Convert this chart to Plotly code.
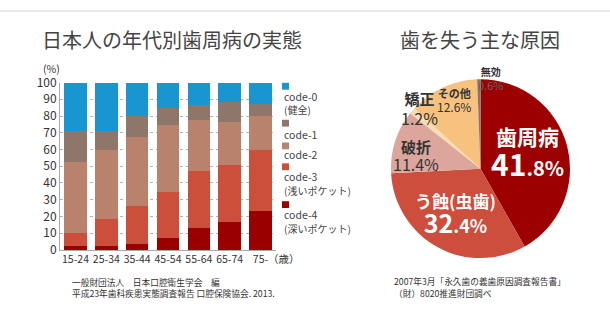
import plotly.graph_objects as go

W, H = 610, 321

# --- periodontal status by age group (stacked %, bottom to top: code-4 ... code-0)
age_groups = ["15-24", "25-34", "35-44", "45-54", "55-64", "65-74", "75-"]
code4 = [2.2, 2.5, 3.8, 7.3, 13.0, 16.4, 23.0]
code3 = [7.8, 16.0, 22.5, 27.3, 34.4, 34.4, 36.8]
code2 = [42.6, 41.3, 41.0, 40.3, 30.3, 25.6, 20.3]
code1 = [18.7, 11.5, 12.8, 9.6, 8.9, 11.7, 7.0]
code0 = [28.7, 28.7, 19.9, 15.5, 13.4, 11.9, 12.9]
y_ticks = list(range(0, 101, 10))

code_names = ["code-0", "code-1", "code-2", "code-3", "code-4"]
code_notes = ["(健全)", "", "", "(浅いポケット)", "(深いポケット)"]
code_colors = ["#1796d1", "#8e776a", "#b8826d", "#cc4f3c", "#9a0000"]

# --- main causes of tooth loss (%)
cause_labels = ["歯周病", "う蝕(虫歯)", "破折", "矯正", "その他", "無効"]
cause_values = [41.8, 32.4, 11.4, 1.2, 12.6, 0.6]
cause_colors = ["#9c0000", "#cd4e3c", "#dca69d", "#f8dcb2", "#f6c27d", "#8c7468"]

FONT = "Noto Sans CJK JP"


def px(x):
    return x / W


def py(y):
    return 1 - y / H


def span(text, size, color=None, bold=False):
    style = f"font-size:{size}px"
    if color:
        style += f";color:{color}"
    body = f"<b>{text}</b>" if bold else text
    return f"<span style='{style}'>{body}</span>"


fig = go.Figure()

series = [code4, code3, code2, code1, code0]
for i, vals in enumerate(series):
    k = 4 - i
    fig.add_trace(go.Bar(
        x=age_groups, y=vals, name=code_names[k],
        marker=dict(color=code_colors[k], line=dict(width=0)),
        showlegend=False, hoverinfo="skip",
    ))

fig.add_trace(go.Pie(
    labels=cause_labels, values=cause_values, sort=False,
    direction="clockwise", rotation=0,
    marker=dict(colors=cause_colors, line=dict(width=0)),
    textinfo="none", hoverinfo="skip", showlegend=False,
    domain=dict(x=[px(386), px(575)], y=[py(262), py(73)]),
))

annotations = []


def note(text, x, y, size, color="#444", xanchor="center", align="center"):
    # size is the base size; it sets the spacing between <br> lines (1.3 em)
    annotations.append(dict(
        text=text, x=px(x), y=py(y), xref="paper", yref="paper",
        xanchor=xanchor, yanchor="middle", align=align, showarrow=False,
        font=dict(family=FONT, size=size, color=color),
    ))


# titles and axis captions
note("日本人の年代別歯周病の実態", 40, 31, 20, "#444", xanchor="left")
note("歯を失う主な原因", 480, 31, 20, "#444")
note("(%)", 41, 62, 10.5, "#333", xanchor="left")
note("（歳）", 266, 262, 10.5, "#333", xanchor="left")

# legend: swatch above each label
legend_rows = [(80.5, 92, 105), (119.5, 131, None), (143.5, 153, None),
               (165.5, 176.5, 190), (205.5, 216, 230)]
shapes = []
for k, (sq_y, t_y, n_y) in enumerate(legend_rows):
    shapes.append(dict(type="rect", xref="paper", yref="paper",
                       x0=px(282), x1=px(289), y0=py(sq_y + 3.6), y1=py(sq_y - 3.6),
                       fillcolor=code_colors[k], line=dict(width=0)))
    if code_notes[k]:
        note(span(code_names[k], 10.5) + "<br>" + span(code_notes[k], 10),
             281.5, (t_y + n_y) / 2, (n_y - t_y) / 1.3, "#444",
             xanchor="left", align="left")
    else:
        note(code_names[k], 281.5, t_y, 10.5, "#444", xanchor="left")


# pie labels; numbers come from the values
def pct(v, big, small):
    whole, frac = f"{v:.1f}".split(".")
    return span(whole, big, bold=True) + span(f".{frac}%", small, bold=True)


def two_lines(top, bottom, x, y_top, y_bot, color):
    note(top + "<br>" + bottom, x, (y_top + y_bot) / 2,
         (y_bot - y_top) / 1.3, color)


two_lines(span(cause_labels[0], 21, bold=True), pct(cause_values[0], 30, 20),
          527, 135, 166, "white")
two_lines(span(cause_labels[1], 17, bold=True), pct(cause_values[1], 25, 18),
          455, 202.5, 227.5, "white")
two_lines(span(cause_labels[2], 15, bold=True), span(f"{cause_values[2]:.1f}%", 16),
          416, 145, 163, "#333")
two_lines(span(cause_labels[3], 15, bold=True), span(f"{cause_values[3]:.1f}%", 16),
          419, 95, 115, "#333")
two_lines(span(cause_labels[4], 11, bold=True), span(f"{cause_values[4]:.1f}%", 12),
          454, 88, 102, "#333")
two_lines(span(cause_labels[5], 10, bold=True),
          span(f"{cause_values[5]:.1f}%", 11, color="#666"),
          490, 65, 79, "#333")

# sources
note(span("一般財団法人　日本口腔衛生学会　編", 8.7) + "<br>"
     + span("平成23年歯科疾患実態調査報告 口腔保険協会. 2013.", 8.7),
     70, 293.7, 10.5 / 1.3, "#333", xanchor="left", align="left")
note(span("2007年3月「永久歯の義歯原因調査報告書」", 8.7) + "<br>"
     + span("（財）8020推進財団調べ", 8.7),
     392, 293.2, 11.5 / 1.3, "#333", xanchor="left", align="left")

# faint top border
shapes.append(dict(type="line", xref="paper", yref="paper",
                   x0=0, x1=1, y0=py(1), y1=py(1),
                   line=dict(color="#e8e8e8", width=2)))

fig.update_layout(
    width=W, height=H,
    margin=dict(l=0, r=0, t=0, b=0),
    paper_bgcolor="white", plot_bgcolor="white",
    barmode="stack", bargap=0.27,
    font=dict(family=FONT, color="#333"),
    xaxis=dict(domain=[px(60.1), px(275.9)], showgrid=False,
               showline=True, linecolor="#aaaaaa", linewidth=1,
               ticks="", tickfont=dict(size=10.5, color="#333"),
               fixedrange=True),
    yaxis=dict(domain=[py(253.3), py(76.6)], range=[0, 100],
               tickvals=y_ticks, ticks="",
               tickfont=dict(size=12, color="#333"),
               showgrid=True, gridcolor="#b5b5b5", griddash="dot", gridwidth=1,
               zeroline=False, showline=True, linecolor="#aaaaaa", linewidth=1,
               fixedrange=True),
    annotations=annotations,
    shapes=shapes,
)

fig.write_html("out.html")
